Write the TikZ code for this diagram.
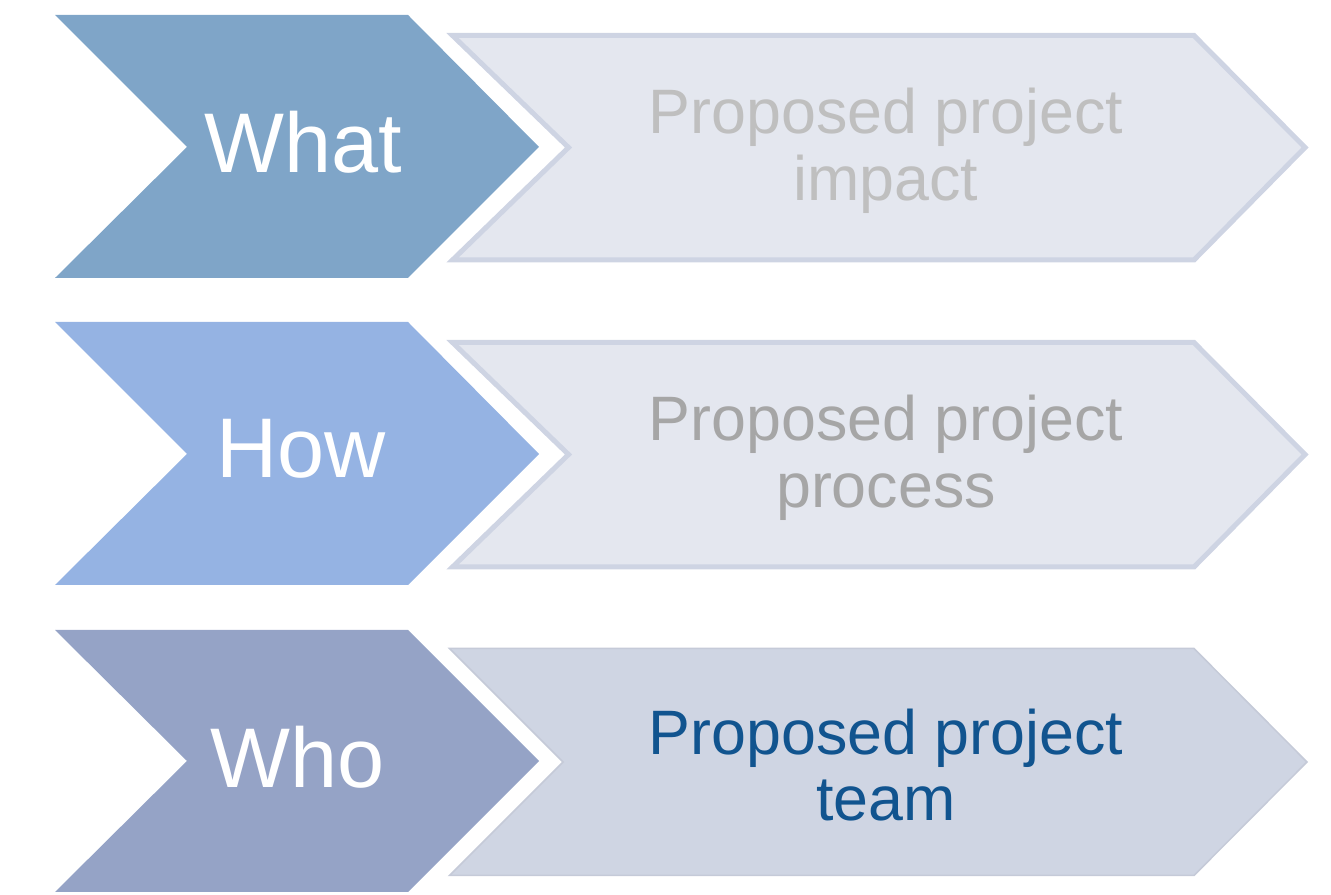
\documentclass[tikz,border=0pt]{standalone}
\usepackage{fontspec}
\setmainfont{Liberation Sans}
\definecolor{whatcol}{HTML}{7FA5C8}
\definecolor{howcol}{HTML}{95B3E3}
\definecolor{whocol}{HTML}{95A3C6}
\definecolor{palefill}{HTML}{E4E7EF}
\definecolor{paleline}{HTML}{CED4E3}
\definecolor{teamfill}{HTML}{CFD5E3}
\definecolor{teamtext}{HTML}{11548F}
\tikzset{
  keyword/.style={text=white,font=\fontsize{85}{92}\selectfont},
  detail/.style={align=center,font=\fontsize{63}{67}\selectfont},
}
\begin{document}
\begin{tikzpicture}[line join=miter]
  \useasboundingbox (0bp,0bp) rectangle (1331bp,895bp);
%%
  % Node: what
\begin{scope}
  \fill [whatcol] (55bp,880bp) -- (408bp,880bp) -- (539bp,748bp) -- (408bp,617bp) -- (55bp,617bp) -- (187bp,748bp) -- cycle;
  \node [keyword] (what) at (303bp,753bp) {What};
\end{scope}
  % Node: impact
\begin{scope}
  \draw [fill=palefill,draw=paleline,line width=5bp] (452.5bp,859.5bp) -- (1194bp,859.5bp) -- (1305bp,747.5bp) -- (1194bp,635bp) -- (452.5bp,635bp) -- (568.5bp,747.5bp) -- cycle;
  \node [detail,text=black!25] (impact) at (886bp,744bp) {Proposed project\\impact};
\end{scope}
  % Node: how
\begin{scope}
  \fill [howcol] (55bp,573bp) -- (408bp,573bp) -- (539bp,441bp) -- (408bp,310bp) -- (55bp,310bp) -- (187bp,441bp) -- cycle;
  \node [keyword] (how) at (301bp,446bp) {How};
\end{scope}
  % Node: process
\begin{scope}
  \draw [fill=palefill,draw=paleline,line width=5bp] (452.5bp,552.5bp) -- (1194bp,552.5bp) -- (1305bp,440.5bp) -- (1194bp,328bp) -- (452.5bp,328bp) -- (568.5bp,440.5bp) -- cycle;
  \node [detail,text=black!35] (process) at (886bp,437bp) {Proposed project\\process};
\end{scope}
  % Node: who
\begin{scope}
  \fill [whocol] (55bp,265bp) -- (408bp,265bp) -- (539bp,134bp) -- (408bp,3bp) -- (55bp,3bp) -- (187bp,134bp) -- cycle;
  \node [keyword] (who) at (298bp,138bp) {Who};
\end{scope}
  % Node: team
\begin{scope}
  \draw [fill=teamfill,draw=teamfill!95!black,line width=1.5bp] (449.5bp,246.5bp) -- (1194bp,246.5bp) -- (1307bp,133bp) -- (1194bp,19.5bp) -- (449.5bp,19.5bp) -- (563bp,133bp) -- cycle;
  \node [detail,text=teamtext] (team) at (886bp,130bp) {Proposed project\\team};
\end{scope}
%
\end{tikzpicture}
\end{document}
